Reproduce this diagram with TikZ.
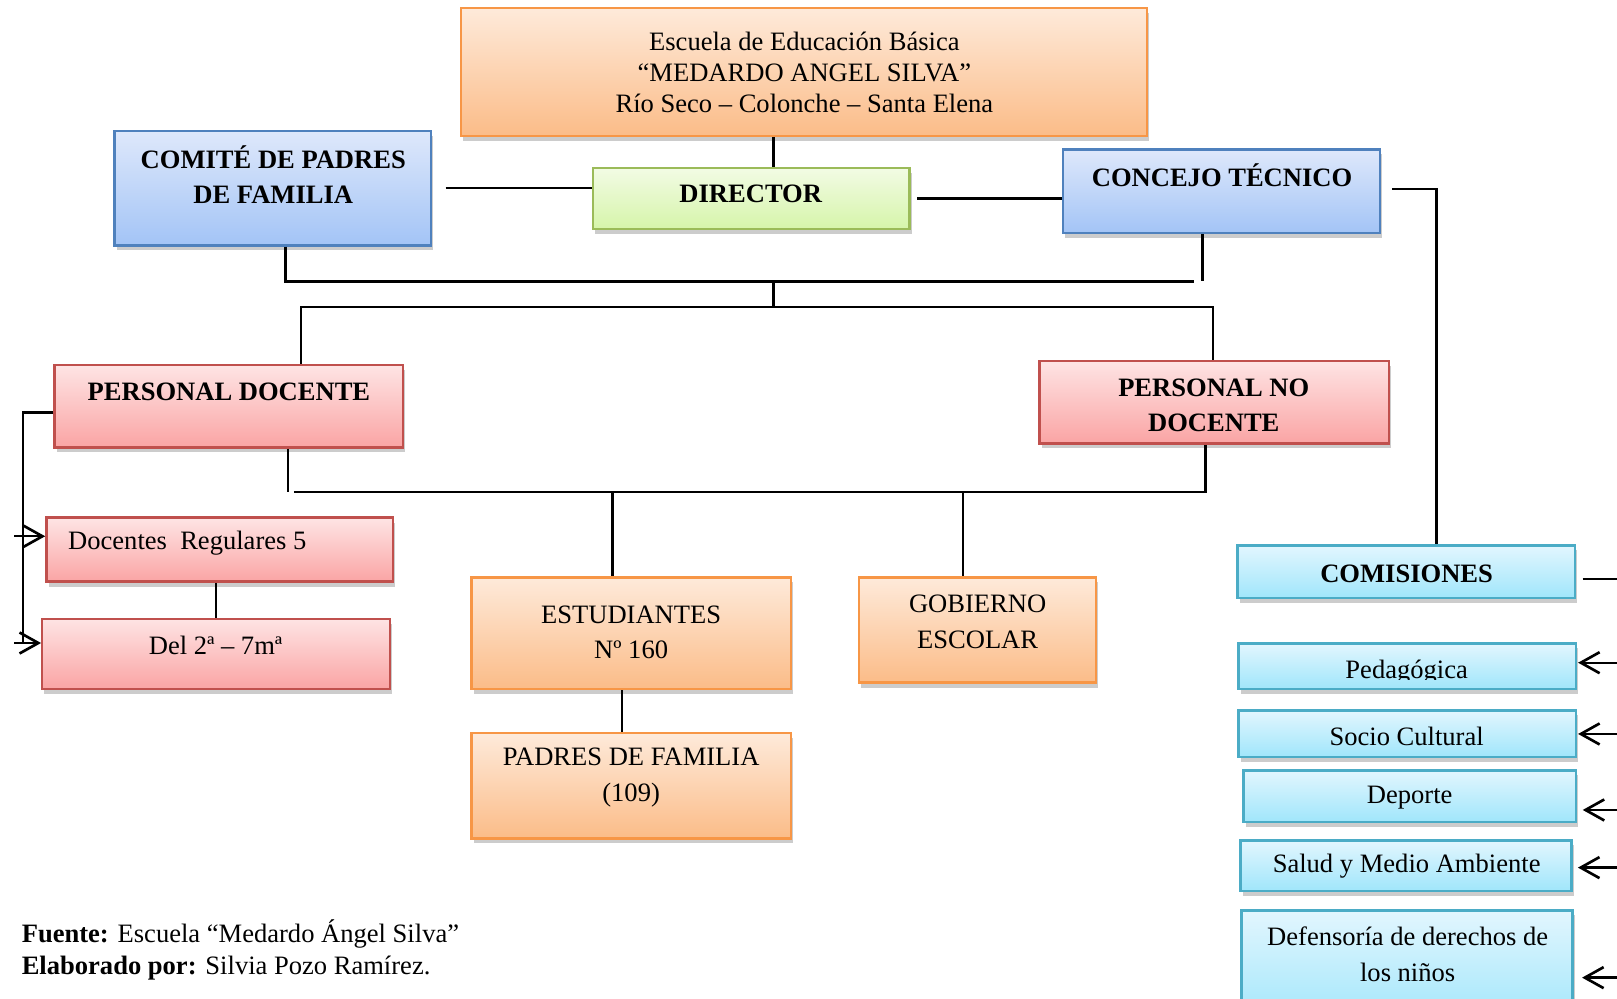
\documentclass[tikz,border=0pt]{standalone}
\usepackage{fontspec}
\setmainfont{Liberation Serif}
\usepackage{tikz}
\usetikzlibrary{
	arrows.meta,
	calc,
	fit,
	positioning,
	shadows,
}
\definecolor{naranjaB}{RGB}{247,150,70}
\definecolor{naranjaA}{RGB}{254,234,218}
\definecolor{naranjaC}{RGB}{251,188,136}
\definecolor{azulB}{RGB}{79,129,189}
\definecolor{azulA}{RGB}{222,232,251}
\definecolor{azulC}{RGB}{163,196,246}
\definecolor{verdeB}{RGB}{155,187,89}
\definecolor{verdeA}{RGB}{242,251,228}
\definecolor{verdeC}{RGB}{214,245,170}
\definecolor{rojoB}{RGB}{192,80,77}
\definecolor{rojoA}{RGB}{254,228,228}
\definecolor{rojoC}{RGB}{250,164,164}
\definecolor{celesteB}{RGB}{75,172,198}
\definecolor{celesteA}{RGB}{226,246,254}
\definecolor{celesteC}{RGB}{160,230,251}
\tikzset{caja/.style={inner sep=0mm,line width=1.1pt,drop shadow={opacity=0.4,shadow xshift=1pt,shadow yshift=-2.2pt},}}
\tikzset{naranja/.style={caja,draw=naranjaB,top color=naranjaA,bottom color=naranjaC,}}
\tikzset{azul/.style={caja,draw=azulB,top color=azulA,bottom color=azulC,}}
\tikzset{verde/.style={caja,draw=verdeB,top color=verdeA,bottom color=verdeC,}}
\tikzset{rojo/.style={caja,draw=rojoB,top color=rojoA,bottom color=rojoC,}}
\tikzset{celeste/.style={caja,draw=celesteB,top color=celesteA,bottom color=celesteC,}}
\tikzset{texto/.style={inner sep=0mm,align=center,font=\fontsize{12}{16}\selectfont,}}
\tikzset{negrita/.style={texto,font=\fontsize{12}{16}\selectfont\bfseries,}}
\tikzset{
	>={Straight Barb[length=8.5pt,width=9.5pt,line width=1.2pt]},
}

\begin{document}
\begin{tikzpicture}[x=0.466pt, y=-0.466pt, line width=1.05pt]

\useasboundingbox (0,0) rectangle (1568,968);

\node[naranja, fit={(447,8) (1112,132)}] (titulo) {};
\node[azul, fit={(111,127) (418,238)}] (comite) {};
\node[verde, fit={(575,163) (882,222)}] (director) {};
\node[azul, fit={(1031,145) (1338,226)}] (concejo) {};
\node[rojo, fit={(53,354) (391,434)}] (pdocente) {};
\node[rojo, fit={(1008,350) (1347,430)}] (pnodocente) {};
\node[rojo, fit={(45,502) (381,564)}] (regulares) {};
\node[rojo, fit={(41,600) (378,668)}] (grados) {};
\node[naranja, fit={(457,560) (767,668)}] (estudiantes) {};
\node[naranja, fit={(833,560) (1063,662)}] (gobierno) {};
\node[naranja, fit={(457,711) (767,813)}] (padres) {};
\node[celeste, fit={(1200,529) (1527,580)}] (comisiones) {};

\foreach \n/\xa/\ya/\xb/\yb in {pedagogica/1201/624/1528/668,socio/1201/689/1528/734,deporte/1206/747/1528/797,salud/1203/815/1524/864,defensoria/1204/883/1525/995}{
	\node[celeste, fit={(\xa,\ya) (\xb,\yb)}] (\n) {};
}

\node[texto, font=\fontsize{12}{14}\selectfont] (tTitulo) at (780,70) {Escuela de Educación Básica\\“MEDARDO ANGEL SILVA”\\Río Seco – Colonche – Santa Elena};
\node[negrita] (tComite) at (265,169.5) {COMITÉ DE PADRES\\DE FAMILIA};
\node[negrita] (tDirector) at (728,188) {DIRECTOR};
\node[negrita] (tConcejo) at (1185,170) {CONCEJO TÉCNICO};
\node[negrita] (tPdocente) at (222,380) {PERSONAL DOCENTE};
\node[negrita] (tPnodocente) at (1177,393) {PERSONAL NO\\DOCENTE};
\node[texto, anchor=west] (tRegulares) at (65,527) {Docentes\ \ Regulares 5};
\node[texto] (tGrados) at (209,626) {Del 2ª – 7mª};
\node[texto] (tEstudiantes) at (612,613) {ESTUDIANTES\\Nº 160};
\node[texto] (tGobierno) at (948,603) {GOBIERNO\\ESCOLAR};
\node[texto] (tPadres) at (612,754) {PADRES DE FAMILIA\\(109)};
\node[negrita] (tComisiones) at (1364,556) {COMISIONES};
\begin{scope}
	\clip (pedagogica.north west) rectangle (pedagogica.east |- 0,659);
	\node[texto, anchor=base] (tPedagogica) at (1364,657.6) {Pedagógica};
\end{scope}
\node[texto] (tSocio) at (1364,714) {Socio Cultural};
\node[texto] (tDeporte) at (1367,773) {Deporte};
\node[texto] (tSalud) at (1364,840) {Salud y Medio Ambiente};
\node[texto] (tDefensoria) at (1365,925.5) {Defensoría de derechos de\\los niños};
\node[texto, anchor=west, align=left, font=\fontsize{12}{14.4}\selectfont] (fuente) at (20,921.5) {\textbf{Fuente:} Escuela “Medardo Ángel Silva”\\\textbf{Elaborado por:} Silvia Pozo Ramírez.};

\coordinate (eje) at (750,273);
\coordinate (b1l) at (277,273);
\coordinate (b1r) at (1158,273);
\coordinate (b1v) at (1166,272);
\coordinate (b2l) at (292,298);
\coordinate (b2r) at (1176,298);
\coordinate (b3v) at (279,477);
\coordinate (b3l) at (285,477);
\coordinate (b3r) at (1169,477);
\coordinate (e1) at (594,477);
\coordinate (g1) at (934,477);
\coordinate (p1) at (603,690);
\coordinate (c1) at (1393,183);
\coordinate (lx) at (22,400);
\coordinate (a1) at (14,520);
\coordinate (a2) at (14,623.5);
\coordinate (r0) at (1568,561.5);

\draw (titulo.south -| eje) -- (director.north -| eje);
\draw[shorten <=6pt] (comite.east) -- (comite.east -| director.west);
\draw[shorten <=3pt] (director.east) -- (director.east -| concejo.west);
\draw[shorten <=5pt] (concejo.east |- c1) -- (c1) -- (comisiones.north -| c1);
\draw (comite.south -| b1l) -- (b1l) -- (b1r);
\draw (concejo.south -| b1v) -- (b1v);
\draw (eje) -- (eje |- b2l);
\draw (pdocente.north -| b2l) -- (b2l) -- (b2r) -- (pnodocente.north -| b2r);
\draw (pdocente.south -| b3v) -- (b3v);
\draw (b3l) -- (b3r) -- (pnodocente.south -| b3r);
\draw (e1) -- (estudiantes.north -| e1);
\draw (g1) -- (gobierno.north -| g1);
\draw (estudiantes.south -| p1) -- (padres.north -| p1);
\draw (regulares.south -| grados.north) -- (grados.north);

\draw (pdocente.west |- lx) -- (lx) -- (lx |- a2);
\draw[->] (a1) -- (a1 -| regulares.west);
\draw[->] (a2) -- (a2 -| grados.west);

\draw[shorten <=3pt] (comisiones.east |- r0) -- (r0);
\foreach \n/\y/\s in {pedagogica/642.6/0.5pt,socio/711.7/0.5pt,deporte/785.4/2.6pt,salud/841.3/2.3pt,defensoria/948/3.7pt}{
	\coordinate (r\n) at (1568,\y);
	\draw[->, shorten >=\s] (r\n) -- (r\n -| \n.east);
}

\end{tikzpicture}
\end{document}
